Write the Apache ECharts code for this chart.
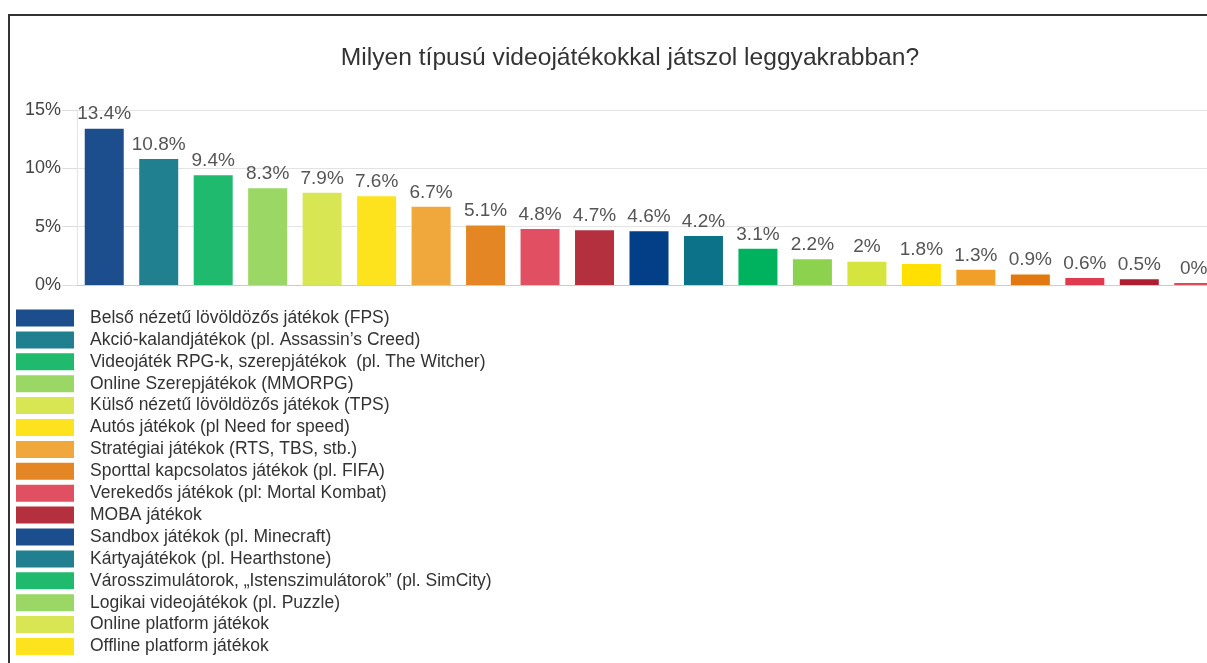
<!DOCTYPE html>
<html>
<head>
<meta charset="utf-8">
<title>Milyen típusú videojátékokkal játszol leggyakrabban?</title>
<script src="https://cdn.jsdelivr.net/npm/echarts@6/dist/echarts.min.js"></script>
<style>
html, body { margin: 0; padding: 0; background: #fff; overflow: hidden; width: 1207px; height: 663px; }
#frame { position: absolute; left: 8px; top: 14px; width: 1240px; height: 700px; border-left: 2px solid #333; border-top: 2px solid #333; }
#chart { width: 1240px; height: 700px; }
</style>
</head>
<body>
<div id="frame"><div id="chart"></div></div>
<script>
// legend names (only the first 16 are visible in the picture)
var categories = [
  "Belső nézetű lövöldözős játékok (FPS)",
  "Akció-kalandjátékok (pl. Assassin’s Creed)",
  "Videojáték RPG-k, szerepjátékok  (pl. The Witcher)",
  "Online Szerepjátékok (MMORPG)",
  "Külső nézetű lövöldözős játékok (TPS)",
  "Autós játékok (pl Need for speed)",
  "Stratégiai játékok (RTS, TBS, stb.)",
  "Sporttal kapcsolatos játékok (pl. FIFA)",
  "Verekedős játékok (pl: Mortal Kombat)",
  "MOBA játékok",
  "Sandbox játékok (pl. Minecraft)",
  "Kártyajátékok (pl. Hearthstone)",
  "Városszimulátorok, „Istenszimulátorok” (pl. SimCity)",
  "Logikai videojátékok (pl. Puzzle)",
  "Online platform játékok",
  "Offline platform játékok"
];
// percentages, one per bar
var values = [13.4, 10.8, 9.4, 8.3, 7.9, 7.6, 6.7, 5.1, 4.8, 4.7, 4.6, 4.2, 3.1, 2.2, 2, 1.8, 1.3, 0.9, 0.6, 0.5, 0];
var yTicks = [0, 5, 10, 15];

var barColors = [
  "#1c4e8d", "#21808f", "#1fba6d", "#9bd764", "#d8e653", "#fde21e", "#f0a83c", "#e48623", "#e05062", "#b5303f",
  "#023f86", "#0b7289", "#00b25d", "#8dd24e", "#d6e53e", "#ffe000", "#f0a028", "#e07a10", "#e03a50", "#b01d30",
  "#e04858"
];
var legendColors = ["#1c4e8d", "#21808f", "#1fba6d", "#9bd764", "#d8e653", "#fde21e", "#f0a83c", "#e48623", "#e05062", "#b5303f"];

var chart = echarts.init(document.getElementById("chart"));

var series = values.map(function (v, i) {
  var data = values.map(function () { return "-"; });
  data[i] = v;
  return {
    name: i < categories.length ? categories[i] : "#" + (i + 1),
    type: "bar",
    stack: "all",
    barWidth: 39,
    barMinHeight: 2,
    data: data,
    itemStyle: { color: barColors[i] },
    label: {
      show: true,
      position: "top",
      distance: 5,
      fontSize: 19,
      fontFamily: "Liberation Sans, Arial, sans-serif",
      color: "#555",
      formatter: "{c}%"
    }
  };
});

chart.setOption({
  animation: false,
  title: {
    text: "Milyen típusú videojátékokkal játszol leggyakrabban?",
    left: "center",
    top: 25,
    textStyle: { fontSize: 24.6, fontWeight: "normal", color: "#333", fontFamily: "Liberation Sans, Arial, sans-serif" }
  },
  legend: {
    orient: "vertical",
    left: 1,
    top: 288,
    itemWidth: 58,
    itemHeight: 17,
    itemGap: 3.9,
    icon: "rect",
    textStyle: { fontSize: 17.5, color: "#333", fontFamily: "Liberation Sans, Arial, sans-serif", padding: [0, 0, 0, 11] },
    data: categories.map(function (c, i) {
      return { name: c, itemStyle: { color: legendColors[i % legendColors.length] } };
    })
  },
  grid: { left: 67, right: 29, top: 94, bottom: 431 },
  xAxis: {
    type: "category",
    data: values.map(function (v, i) { return String(i + 1); }),
    axisLabel: { show: false },
    axisTick: { show: false },
    axisLine: { lineStyle: { color: "#ccc", width: 1 } }
  },
  yAxis: {
    type: "value",
    min: yTicks[0],
    max: yTicks[yTicks.length - 1],
    interval: yTicks[1] - yTicks[0],
    axisLine: { show: true, lineStyle: { color: "#e6e6e6" } },
    axisTick: { show: true, length: 15, lineStyle: { color: "#ddd" } },
    splitLine: { lineStyle: { color: "#e3e3e3" } },
    axisLabel: {
      margin: 16,
      fontSize: 18,
      color: "#444",
      fontFamily: "Liberation Sans, Arial, sans-serif",
      formatter: "{value}%"
    }
  },
  series: series
});
</script>
</body>
</html>
